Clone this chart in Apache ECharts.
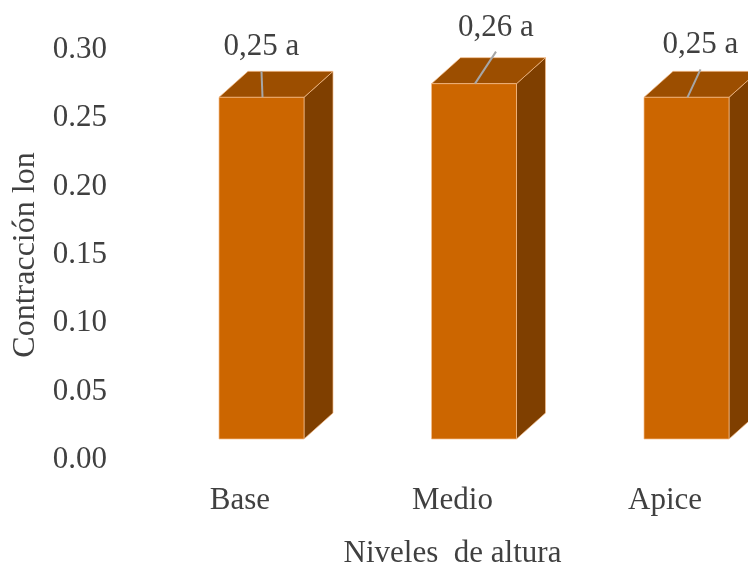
<!DOCTYPE html>
<html>
<head>
<meta charset="utf-8">
<script src="https://cdn.jsdelivr.net/npm/echarts@6/dist/echarts.min.js"></script>
<style>
  html, body { margin: 0; padding: 0; background: #ffffff; }
  #chart { width: 748px; height: 574px; }
</style>
</head>
<body>
<div id="chart"></div>
<script>
// Contracción longitudinal por nivel de altura
const categories = ['Base', 'Medio', 'Apice'];
const contraccion = [0.25, 0.26, 0.25];
const grupos = ['a', 'a', 'a'];
const yTicks = [0.00, 0.05, 0.10, 0.15, 0.20, 0.25, 0.30];

const FONT_FAMILY = '"Liberation Serif", "Times New Roman", serif';
const TEXT_COLOR = '#404040';
const FRONT_COLOR = '#CC6600';
const TOP_COLOR = '#9C4E00';
const SIDE_COLOR = '#7F3F00';
const EDGE_COLOR = 'rgba(245,190,140,0.7)';

// box geometry in pixels
const FRONT_W = 85;
const DEPTH_X = 29;
const DEPTH_Y = -26;
const FLOOR_LIFT = -21;
const FRONT_SHIFT = -21;
// where each value label sits relative to the centre of the box's front top edge
const labelNudge = [[0, -50], [22, -56], [14, -52]];

function fmtLabel(v, g) {
  return v.toFixed(2).replace('.', ',') + ' ' + g;
}

const chart = echarts.init(document.getElementById('chart'), null, { renderer: 'canvas' });

chart.setOption({
  animation: false,
  backgroundColor: '#ffffff',
  // grid edges sit on the first and last category centres (boundaryGap off)
  grid: { left: 240, right: 83, top: 50, bottom: 114, containLabel: false },
  xAxis: {
    type: 'category',
    data: categories,
    boundaryGap: false,
    name: 'Niveles  de altura',
    nameLocation: 'middle',
    nameGap: 78,
    nameTextStyle: { fontFamily: FONT_FAMILY, fontSize: 31, color: TEXT_COLOR },
    axisLine: { show: false },
    axisTick: { show: false },
    splitLine: { show: false },
    axisLabel: { margin: 25, fontFamily: FONT_FAMILY, fontSize: 31, color: TEXT_COLOR }
  },
  yAxis: {
    type: 'value',
    min: yTicks[0],
    max: yTicks[yTicks.length - 1],
    interval: yTicks[1] - yTicks[0],
    name: 'Contracción lon',
    nameLocation: 'middle',
    nameGap: 193,
    nameRotate: 90,
    nameTextStyle: { fontFamily: FONT_FAMILY, fontSize: 32, color: TEXT_COLOR },
    axisLine: { show: false },
    axisTick: { show: false },
    splitLine: { show: false },
    axisLabel: {
      margin: 133,
      fontFamily: FONT_FAMILY,
      fontSize: 31,
      color: TEXT_COLOR,
      padding: [4, 0, 0, 0],
      formatter: v => v.toFixed(2)
    }
  },
  series: [{
    type: 'custom',
    clip: false,
    data: categories.map((c, i) => [i, contraccion[i]]),
    renderItem: function (params, api) {
      const i = api.value(0);
      const v = api.value(1);
      const p0 = api.coord([i, 0]);
      const pv = api.coord([i, v]);
      const xl = p0[0] + FRONT_SHIFT;
      const xr = xl + FRONT_W;
      const yb = p0[1] + FLOOR_LIFT;
      const yt = pv[1] + FLOOR_LIFT;
      const edge = { stroke: EDGE_COLOR, lineWidth: 1 };

      const side = {
        type: 'polygon',
        shape: { points: [[xr, yt], [xr + DEPTH_X, yt + DEPTH_Y], [xr + DEPTH_X, yb + DEPTH_Y], [xr, yb]] },
        style: Object.assign({ fill: SIDE_COLOR }, edge)
      };
      const top = {
        type: 'polygon',
        shape: { points: [[xl, yt], [xl + DEPTH_X, yt + DEPTH_Y], [xr + DEPTH_X, yt + DEPTH_Y], [xr, yt]] },
        style: Object.assign({ fill: TOP_COLOR }, edge)
      };
      const front = {
        type: 'rect',
        shape: { x: xl, y: yt, width: FRONT_W, height: yb - yt },
        style: Object.assign({ fill: FRONT_COLOR }, edge)
      };

      const cx = (xl + xr) / 2;
      const nudge = labelNudge[i];
      const tx = cx + nudge[0];
      const ty = yt + nudge[1];
      const leader = {
        type: 'line',
        shape: { x1: cx + 1, y1: yt, x2: tx, y2: ty + 24 },
        style: { stroke: '#A6A6A6', lineWidth: 2 }
      };
      const label = {
        type: 'text',
        style: {
          text: fmtLabel(v, grupos[i]),
          x: tx,
          y: ty,
          align: 'center',
          verticalAlign: 'middle',
          font: '31px ' + FONT_FAMILY,
          fill: TEXT_COLOR
        }
      };
      return { type: 'group', children: [side, top, front, leader, label] };
    }
  }]
});
</script>
</body>
</html>
